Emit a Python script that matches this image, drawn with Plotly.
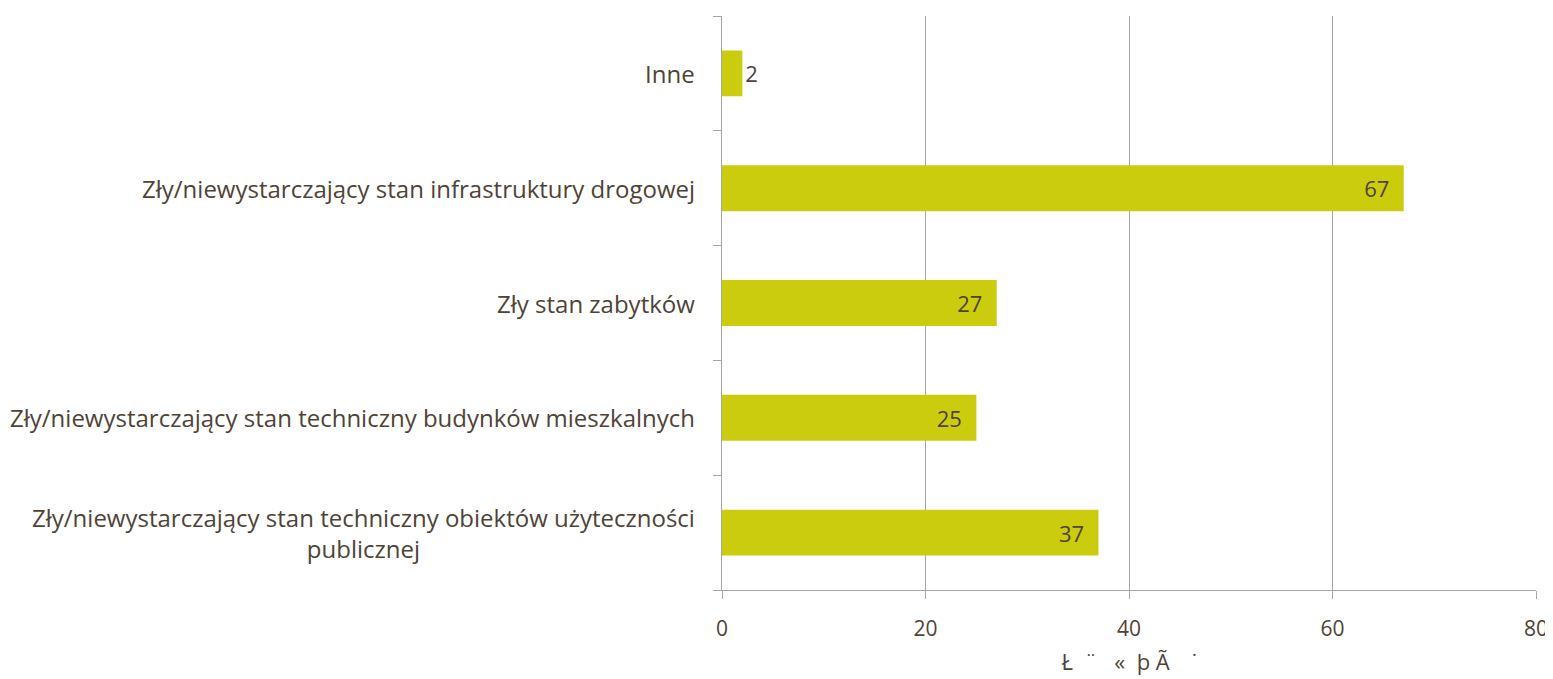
import plotly.graph_objects as go

categories = [
    "Zły/niewystarczający stan techniczny obiektów użyteczności<br>publicznej",
    "Zły/niewystarczający stan techniczny budynków mieszkalnych",
    "Zły stan zabytków",
    "Zły/niewystarczający stan infrastruktury drogowej",
    "Inne",
]
values = [37, 25, 27, 67, 2]
x_ticks = [0, 20, 40, 60, 80]
x_title = "Ł  ¨   «  þ Ã    ˙"

text_color = "#4f4337"
grid_color = "#a6a6a6"
bar_color = "#cccc0e"
font_family = "Open Sans"
label_size = 24

pad = "\u00a0\u00a0"
bar_text = [f"{v}{pad}" if v >= 5 else str(v) for v in values]
text_pos = ["inside" if v >= 5 else "outside" for v in values]

fig = go.Figure(
    go.Bar(
        y=categories,
        x=values,
        orientation="h",
        marker=dict(color=bar_color, line=dict(width=0)),
        width=0.4,
        text=bar_text,
        textposition=text_pos,
        insidetextanchor="end",
        textfont=dict(color=text_color, size=22, family=font_family),
        cliponaxis=False,
    )
)

fig.update_layout(
    width=1553,
    height=679,
    paper_bgcolor="white",
    plot_bgcolor="white",
    margin=dict(l=714, r=25, t=8, b=97),
    showlegend=False,
    font=dict(family=font_family, color=text_color, size=label_size),
)

fig.update_xaxes(
    range=[0, 80],
    tickvals=x_ticks,
    ticktext=[str(t) for t in x_ticks],
    showgrid=True,
    gridcolor=grid_color,
    gridwidth=1,
    showline=True,
    linecolor=grid_color,
    linewidth=1,
    ticks="outside",
    ticklen=8,
    tickcolor=grid_color,
    zeroline=False,
    automargin=False,
    tickfont=dict(size=21, color=text_color),
    ticklabelstandoff=12,
    title=dict(text=x_title, font=dict(size=22, color=text_color), standoff=13),
)

fig.update_yaxes(
    type="category",
    categoryorder="array",
    categoryarray=categories,
    showgrid=False,
    showline=True,
    linecolor=grid_color,
    linewidth=1,
    ticks="outside",
    tickson="boundaries",
    ticklen=8,
    tickcolor=grid_color,
    showticklabels=False,
    automargin=False,
)

for cat in categories:
    fig.add_annotation(
        x=0,
        xref="paper",
        y=cat,
        yref="y",
        text=cat,
        showarrow=False,
        xanchor="right",
        yanchor="middle",
        align="center",
        xshift=-25,
        font=dict(size=label_size, color=text_color, family=font_family),
    )

fig.write_html("out.html")
